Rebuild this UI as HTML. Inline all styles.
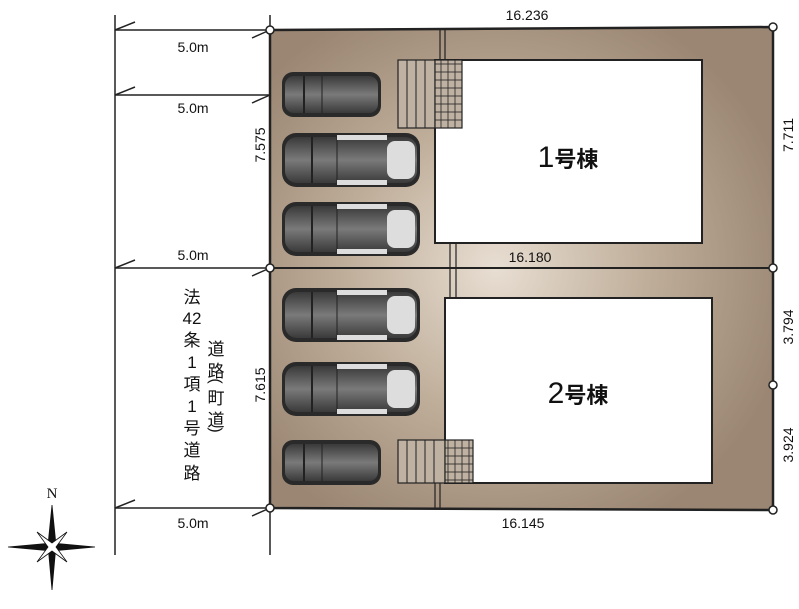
<!DOCTYPE html><html><head><meta charset="utf-8"><style>body{margin:0;background:#fff}svg{display:block}text{font-family:"Liberation Sans","Noto Sans CJK JP",sans-serif;fill:#111}</style></head><body>
<svg width="799" height="609" viewBox="0 0 799 609">
<defs>
<radialGradient id="g" cx="0.45" cy="0.5" r="0.6"><stop offset="0" stop-color="#e8ded2"/><stop offset="0.5" stop-color="#bfae9a"/><stop offset="1" stop-color="#9a8672"/></radialGradient>
<linearGradient id="cb" x1="0" y1="0" x2="0" y2="1"><stop offset="0" stop-color="#3a3a3a"/><stop offset="0.5" stop-color="#7a7a7a"/><stop offset="1" stop-color="#3a3a3a"/></linearGradient>
<pattern id="grid" width="7" height="8" patternUnits="userSpaceOnUse"><rect width="7" height="8" fill="#bfb2a2" stroke="#222" stroke-width="0.8"/></pattern>
<g id="carL"><rect x="0" y="0" width="138" height="54" rx="14" fill="#2a2a2a"/><rect x="3" y="4" width="132" height="46" rx="12" fill="url(#cb)"/><rect x="105" y="8" width="28" height="38" rx="8" fill="#ddd"/><line x1="30" y1="4" x2="30" y2="50" stroke="#222" stroke-width="2"/><line x1="55" y1="4" x2="55" y2="50" stroke="#222"/><rect x="55" y="2" width="50" height="5" fill="#ddd"/><rect x="55" y="47" width="50" height="5" fill="#ddd"/></g>
<g id="carS"><rect x="0" y="0" width="99" height="45" rx="11" fill="#2a2a2a"/><rect x="3" y="4" width="93" height="37" rx="9" fill="url(#cb)"/><line x1="22" y1="4" x2="22" y2="41" stroke="#222" stroke-width="2"/><line x1="40" y1="4" x2="40" y2="41" stroke="#222"/></g>
</defs>
<polygon points="270,30 773,27 773,510 270,508" fill="url(#g)" stroke="#222" stroke-width="2.5"/>
<line x1="270" y1="268" x2="773" y2="268" stroke="#222" stroke-width="2"/>
<g stroke="#222" stroke-width="1.2" fill="none"><path d="M440 30V60M445 30V60M450 268V243M456 268V243M450 268V298M456 268V298M435 483V508M440 483V508"/></g>
<rect x="435" y="60" width="267" height="183" fill="#fff" stroke="#222" stroke-width="2"/>
<rect x="445" y="298" width="267" height="185" fill="#fff" stroke="#222" stroke-width="2"/>
<rect x="398" y="60" width="37" height="68" fill="#bfb2a2" stroke="#222" stroke-width="1.2"/>
<path d="M407 60V128M416 60V128M425 60V128" stroke="#222"/>
<rect x="435" y="60" width="27" height="68" fill="url(#grid)" stroke="#222" stroke-width="1.2"/>
<rect x="398" y="440" width="47" height="43" fill="#bfb2a2" stroke="#222" stroke-width="1.2"/>
<path d="M407 440V483M416 440V483M425 440V483M434 440V483" stroke="#222"/>
<rect x="445" y="440" width="28" height="43" fill="url(#grid)" stroke="#222" stroke-width="1.2"/>
<text x="568" y="167" text-anchor="middle"><tspan font-size="30">1</tspan><tspan font-size="22" font-weight="bold">号棟</tspan></text>
<text x="578" y="403" text-anchor="middle"><tspan font-size="30">2</tspan><tspan font-size="22" font-weight="bold">号棟</tspan></text>
<use href="#carS" x="282" y="72"/>
<use href="#carL" x="282" y="133"/>
<use href="#carL" x="282" y="202"/>
<use href="#carL" x="282" y="288"/>
<use href="#carL" x="282" y="362"/>
<use href="#carS" x="282" y="440"/>
<g stroke="#222" stroke-width="1.5" fill="none">
<path d="M115 15V555M270 15V555"/>
<path d="M115 30H270M115 95H270M115 268H270M115 508H270"/>
<path d="M115 30L135 22M115 95L135 87M115 268L135 260M115 508L135 500M270 30L252 38M270 95L252 103M270 268L252 276M270 508L252 516"/>
</g>
<g fill="#fff" stroke="#222" stroke-width="1.5"><circle cx="270" cy="30" r="4"/><circle cx="773" cy="27" r="4"/><circle cx="270" cy="268" r="4"/><circle cx="773" cy="268" r="4"/><circle cx="773" cy="385" r="4"/><circle cx="270" cy="508" r="4"/><circle cx="773" cy="510" r="4"/></g>
<g font-size="14">
<text x="193" y="52" text-anchor="middle">5.0m</text><text x="193" y="113" text-anchor="middle">5.0m</text><text x="193" y="260" text-anchor="middle">5.0m</text><text x="193" y="528" text-anchor="middle">5.0m</text>
<text x="527" y="20" text-anchor="middle">16.236</text><text x="530" y="262" text-anchor="middle">16.180</text><text x="523" y="528" text-anchor="middle">16.145</text>
<text transform="translate(265,145) rotate(-90)" text-anchor="middle">7.575</text>
<text transform="translate(265,385) rotate(-90)" text-anchor="middle">7.615</text>
<text transform="translate(793,135) rotate(-90)" text-anchor="middle">7.711</text>
<text transform="translate(793,327) rotate(-90)" text-anchor="middle">3.794</text>
<text transform="translate(793,445) rotate(-90)" text-anchor="middle">3.924</text>
</g>
<g font-size="17" text-anchor="middle"><text x="192" y="303">法</text><text x="192" y="324">42</text><text x="192" y="346">条</text><text x="192" y="368">1</text><text x="192" y="390">項</text><text x="192" y="412">1</text><text x="192" y="434">号</text><text x="192" y="456">道</text><text x="192" y="479">路</text>
<text x="216" y="355">道</text><text x="216" y="377">路</text><text transform="translate(211,381) rotate(90)" font-size="16">(</text><text x="216" y="404">町</text><text x="216" y="426">道</text><text transform="translate(211,430) rotate(90)" font-size="16">)</text></g>
<text x="52" y="498" font-size="15" text-anchor="middle" style="font-family:'Liberation Serif',serif">N</text>
<g fill="#111" stroke="#111" stroke-width="0.8">
<polygon points="52,505 56,545 52,590 48,545"/>
<polygon points="8,547 52,543 95,547 52,551"/>
<polygon points="37,532 52,543 67,532 56,547 67,562 52,551 37,562 48,547" fill="#fff"/>
</g>
</svg></body></html>
